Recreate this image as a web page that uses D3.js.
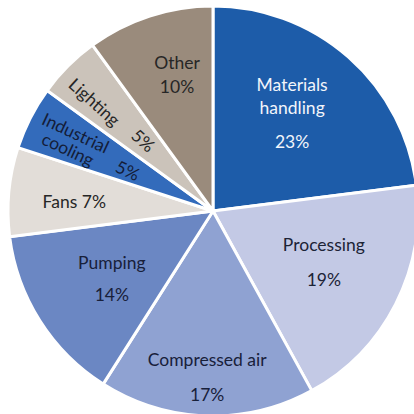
<!DOCTYPE html>
<html>
<head>
<meta charset="utf-8">
<script src="https://cdn.jsdelivr.net/npm/d3@7"></script>
<style>
  html, body { margin: 0; padding: 0; background: #ffffff; }
  svg { display: block; }
  text { font-family: Lato, "Open Sans", "DejaVu Sans", sans-serif; }
</style>
</head>
<body>
<svg id="chart" width="414" height="414"></svg>
<script>
// Share of industrial motor electricity use, by end use (%)
const categories = ["Materials handling", "Processing", "Compressed air", "Pumping",
                    "Fans", "Industrial cooling", "Lighting", "Other"];
const shares = [23, 19, 17, 14, 7, 5, 5, 10];
// How each category name is broken onto lines inside its slice
const nameLines = [["Materials", "handling"], ["Processing"], ["Compressed air"], ["Pumping"],
                   ["Fans"], ["Industrial", "cooling"], ["Lighting"], ["Other"]];

// Slice fills and label colours
const fills = ["#1d5ca9", "#c3c9e5", "#8fa2d2", "#6b87c3", "#e2ddd8", "#336bbb", "#cbc3ba", "#9a8b7c"];
const inks  = ["#f2f5fb", "#1c2336", "#18203a", "#18203a", "#262626", "#141d38", "#262626", "#262626"];

// Label placement: anchor in polar form (degrees clockwise from 12 o'clock, px from centre),
// rotation of the label block, and per-line offsets within the block.
const labelLayout = [
  { angle: 38.9,  r: 126, rot: 0,  name: [[0, -28], [0, -5]], pct: [0, 29] },
  { angle: 114.7, r: 122, rot: 0,  name: [[0, -17]],          pct: [0, 18] },
  { angle: 182,   r: 166, rot: 0,  name: [[0, -17]],          pct: [0, 18] },
  { angle: 236,   r: 122, rot: 0,  name: [[0, -16]],          pct: [0, 16] },
  { angle: 273.7, r: 139, rot: 0,  name: [[-15, 0]],          pct: [25, 0], inline: true },
  { angle: 299.5, r: 158, rot: 25, name: [[0, 0], [0, 18]],   pct: [63, 12] },
  { angle: 312.5, r: 161, rot: 42, name: [[0, 0]],            pct: [62, -4] },
  { angle: 345.2, r: 141, rot: 0,  name: [[0, -12]],          pct: [0, 12] }
];

const width = 414, height = 414;
const cx = 213, cy = 211, radius = 205;

const svg = d3.select("#chart");
const g = svg.append("g").attr("transform", `translate(${cx},${cy})`);

const pie = d3.pie().sort(null).value(d => d).startAngle(0).endAngle(2 * Math.PI);
const arc = d3.arc().innerRadius(0).outerRadius(radius);
const arcs = pie(shares);

g.selectAll("path.slice")
  .data(arcs)
  .join("path")
  .attr("class", "slice")
  .attr("d", arc)
  .attr("fill", (d, i) => fills[i])
  .attr("stroke", "#ffffff")
  .attr("stroke-width", 3)
  .attr("stroke-linejoin", "miter");

// Labels
const fontSize = 17.5;
arcs.forEach((d, i) => {
  const L = labelLayout[i];
  const a = L.angle * Math.PI / 180;
  const x = Math.sin(a) * L.r;
  const y = -Math.cos(a) * L.r;
  const lg = g.append("g")
    .attr("transform", `translate(${x},${y}) rotate(${L.rot})`)
    .attr("fill", inks[i])
    .style("font-size", fontSize + "px");

  if (L.inline) {
    lg.append("text")
      .attr("text-anchor", "middle")
      .attr("dy", "0.35em")
      .text(`${nameLines[i][0]} ${shares[i]}%`);
    return;
  }
  nameLines[i].forEach((line, k) => {
    lg.append("text")
      .attr("x", L.name[k][0])
      .attr("y", L.name[k][1])
      .attr("dy", "0.35em")
      .attr("text-anchor", "middle")
      .text(line);
  });
  lg.append("text")
    .attr("x", L.pct[0])
    .attr("y", L.pct[1])
    .attr("dy", "0.35em")
    .attr("text-anchor", "middle")
    .text(`${shares[i]}%`);
});
</script>
</body>
</html>
